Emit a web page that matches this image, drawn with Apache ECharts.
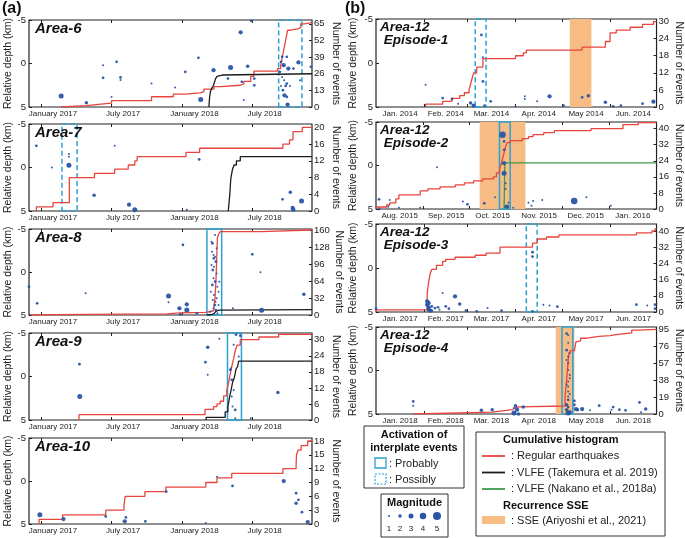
<!DOCTYPE html>
<html><head><meta charset="utf-8">
<script src="https://cdn.jsdelivr.net/npm/echarts@6/dist/echarts.min.js"></script>
<style>html,body{margin:0;padding:0;background:#fff}#c{width:685px;height:538px}</style>
</head><body><div id="c"></div>
<script>
// ---------------- DATA ----------------
// cumulative counts: [date, cumulative number]
const a6Red = [['2017-02-22',1],['2017-04-28',2],['2017-05-29',3],['2017-07-02',5],['2017-10-13',8],['2017-12-08',10],['2018-01-08',11],['2018-02-16',12],['2018-02-25',14],['2018-03-23',16],['2018-04-09',17],['2018-05-31',18],['2018-06-08',20],['2018-06-26',24],['2018-07-04',28],['2018-09-03',30],['2018-09-11',32],['2018-09-16',40],['2018-09-20',46],['2018-09-24',52],['2018-09-29',60],['2018-10-07',61],['2018-10-25',62],['2018-11-02',65],['2018-11-11',66]];
const a6Vlfe = [['2018-03-10',0],['2018-03-11',4],['2018-03-12',8],['2018-03-14',12],['2018-03-18',15],['2018-03-22',17],['2018-03-27',22],['2018-03-31',24],['2018-04-04',25],['2018-04-13',26]];
const a6Poss = ['2018-09-06','2018-11-05'];
// dots: [date, relative depth (km), magnitude]
const a6Dots = [['2017-02-22',3.73,3],['2017-04-28',4.5,2],['2017-06-10',0.19,1],['2017-06-10',1.65,1.5],['2017-07-15',-0.19,1.5],['2017-07-25',1.6,1.5],['2017-07-25',1.9,1],['2017-07-02',3.85,1],['2017-10-13',2.3,1],['2017-12-13',2.77,1],['2018-01-08',0.96,1.5],['2018-02-11',-0.65,1.5],['2018-02-17',4.15,3],['2018-03-22',0.77,2.5],['2018-04-28',1.73,1.5],['2018-05-05',0.46,3],['2018-05-31',-3.58,2.5],['2018-06-03',2.1,1.5],['2018-06-08',4.2,1],['2018-06-18',0.31,2],['2018-06-27',-4.9,1.5],['2018-07-05',1.73,1.5],['2018-07-05',2.5,1.5],
['2018-09-12',-0.19,1.5],['2018-09-15',-0.77,1.5],['2018-09-19',0.19,2.5],['2018-09-27',-0.77,1.5],['2018-10-01',0.58,2.5],['2018-10-14',0.58,1.5],['2018-10-27',-0.12,2.5],['2018-09-09',0.96,1.5],['2018-09-15',1.54,1],['2018-09-20',1.92,1],['2018-09-27',2.3,1.5],['2018-09-12',2.58,1],['2018-09-24',2.58,1.5],['2018-10-05',2.58,1],['2018-09-17',3.07,1.5],['2018-09-21',3.65,2.5],['2018-09-27',3.84,1.5],['2018-09-29',4.72,2.5],['2018-10-31',1.92,1],['2018-11-28',0.38,1.5]];

const a7Red = [['2016-12-20',1],['2017-02-01',2],['2017-03-15',8],['2017-05-19',9],['2017-07-10',10],['2017-08-14',11],['2017-08-31',12],['2017-09-06',13],['2018-01-10',14],['2018-02-14',15],['2018-09-17',16],['2018-10-04',17],['2018-10-13',19],['2018-11-06',20]];
const a7Vlfe = [['2018-04-29',0],['2018-05-01',2],['2018-05-03',4],['2018-05-05',7],['2018-05-06',8],['2018-05-08',9],['2018-05-10',10],['2018-05-14',11],['2018-05-20',12],['2018-05-30',13]];
const a7Poss = ['2017-02-24','2017-04-04'];
const a7Dots = [['2016-12-20',-2.5,1.5],['2017-01-29',0,1],['2017-03-14',-1.54,1],['2017-03-14',-1.23,1],['2017-03-14',-0.27,3],['2017-07-10',-2.5,1],['2017-05-18',3.19,2],['2017-08-16',4.27,2.5],['2017-08-31',4.85,3],['2018-01-12',4.85,1],['2018-02-13',-0.92,1.5],['2018-09-16',3.65,1.5],['2018-10-06',2.85,2],['2018-10-12',4.65,2.5],['2018-10-14',4.85,2.5],['2018-11-04',3.85,3]];

const a8Red = [['2016-12-05',1],['2017-04-24',2],['2017-11-21',4],['2017-12-25',5],['2018-02-28',6],['2018-03-09',8],['2018-03-22',10],['2018-03-24',20],['2018-03-26',35],['2018-03-28',60],['2018-03-30',100],['2018-03-31',125],['2018-04-01',145],['2018-04-04',152],['2018-04-08',157],['2018-07-21',160]];
const a8Vlfe = [['2018-03-04',0],['2018-03-10',1],['2018-03-18',3],['2018-03-24',5],['2018-03-28',7],['2018-04-01',9],['2018-04-05',10]];
const a8Prob = ['2018-03-05','2018-04-12'];
const a8Dots = [['2016-12-01',1.71,1.5],['2016-12-22',3.64,1.5],['2017-04-26',2.48,1],['2017-11-26',2.79,3],['2017-11-26',3.53,1],['2017-12-24',4.22,2.5],['2017-12-26',4.92,1.5],['2018-01-02',-3.14,1.5],['2018-01-12',3.76,2.5],['2018-01-12',4.42,3],['2018-02-07',4.81,1.5],['2018-05-11',4.22,1],['2018-06-30',-2.05,1.5],['2018-07-21',0.04,1],['2018-07-24',4.46,3],['2018-11-10',2.6,2],
['2018-03-17',-3.53,1],['2018-03-19',-3.33,1.5],['2018-03-22',-1.98,1],['2018-03-23',-1.59,1.5],['2018-03-26',-1.78,1],['2018-03-28',-1.2,1.5],['2018-03-17',-0.81,1],['2018-03-20',-0.23,1.5],['2018-03-22',0.74,1],['2018-03-26',1.12,1.5],['2018-03-30',0.16,1],['2018-04-01',1.71,1],['2018-03-19',1.51,1.5],['2018-03-23',2.67,1],['2018-03-27',3.45,1],['2018-03-15',2.29,1],['2018-03-30',3.06,1],['2018-04-04',3.84,1],['2018-03-28',4.42,1.5],['2018-03-22',4.22,1],['2018-04-01',4.81,1],['2018-03-26',-4.3,1],['2018-03-30',-2.75,1],['2018-03-18',-2.36,1],['2018-03-23',-0.62,1],['2018-04-04',2.29,1],['2018-04-06',1.12,1],['2018-03-13',4.61,1],['2018-03-25',3.84,1.5],['2018-03-20',3.26,1]];

const a9Red = [['2017-04-09',2],['2018-02-28',4],['2018-03-22',5],['2018-03-31',6],['2018-04-08',7],['2018-04-17',9],['2018-04-25',11],['2018-04-30',14],['2018-05-04',17],['2018-05-08',20],['2018-05-13',23],['2018-05-17',26],['2018-05-22',28],['2018-05-30',30],['2018-07-17',31],['2018-09-06',32]];
const a9Vlfe = [['2018-03-03',1],['2018-04-21',3],['2018-04-28',5],['2018-05-03',9],['2018-05-06',11],['2018-05-10',14],['2018-05-15',16],['2018-05-19',19],['2018-05-23',20],['2018-05-26',22]];
const a9Prob = ['2018-04-27','2018-06-02'];
const a9Dots = [['2017-04-10',-1.42,1.5],['2017-04-11',2.31,3],['2018-03-07',-3.35,2],['2018-03-01',-1.65,1.5],['2018-03-07',-0.19,1],['2018-04-06',-4.35,1],['2018-05-04',-0.77,1.5],['2018-05-06',-0.96,1],['2018-05-08',2.31,1],['2018-05-10',3.46,1],['2018-05-13',-3.65,1],['2018-05-17',3.85,1.5],['2018-05-19',-4.8,1.5],['2018-05-26',-2.31,1],['2018-05-30',-4.69,1.5],['2018-05-17',4.81,1],['2018-06-26',4.81,1],['2018-09-04',1.85,2],['2018-05-08',0.38,1.5],['2018-05-13',1.54,1]];

const a10Red = [['2016-12-27',1],['2017-02-26',2],['2017-06-17',3],['2017-08-03',4],['2017-08-06',6],['2017-09-26',7],['2017-11-19',8],['2018-03-02',9],['2018-03-31',10],['2018-05-08',11],['2018-09-17',12],['2018-10-21',13],['2018-10-22',15],['2018-10-26',16],['2018-11-03',17],['2018-11-20',18]];
const a10Dots = [['2016-12-29',3.92,3],['2017-02-28',4.42,2.5],['2017-06-17',4.12,1.5],['2017-08-08',4.23,1.5],['2017-08-05',4.69,2.5],['2017-09-27',4.69,1.5],['2017-11-20',1.23,1.5],['2018-03-02',4.88,1],['2018-03-31',-0.5,1],['2018-05-10',0.58,1.5],['2018-09-19',0,2.5],['2018-10-21',1.42,1.5],['2018-10-21',2.58,2],['2018-10-27',2.19,1.5],['2018-11-05',3.62,1.5],['2018-11-20',4.77,2.5]];

const e1Red = [['2014-02-02',1],['2014-02-13',2],['2014-02-19',3],['2014-02-24',4],['2014-02-27',5],['2014-03-02',6],['2014-03-03',8],['2014-03-04',10],['2014-03-05',12],['2014-03-07',14],['2014-03-11',17],['2014-04-01',18],['2014-04-06',19],['2014-04-08',20],['2014-05-14',21],['2014-05-29',23],['2014-06-01',26],['2014-06-05',27],['2014-06-14',28],['2014-06-22',29],['2014-06-29',30]];
const e1Poss = ['2014-03-06','2014-03-13'];
const e1SSE = ['2014-05-06','2014-05-20'];
const e1Dots = [['2014-02-02',2.47,1],['2014-02-13',3.98,1.5],['2014-02-19',4.09,1.5],['2014-02-23',4.62,1],['2014-03-03',4.55,2],['2014-03-05',4.85,2.5],['2014-03-10',-3.19,1.5],['2014-03-11',-0.66,1],['2014-03-11',2.09,1.5],['2014-03-12',4.85,1.5],['2014-03-16',4.36,1.5],['2014-04-01',4.92,1],['2014-04-07',3.79,1],['2014-04-07',4.09,1],['2014-04-15',4.36,1],['2014-04-23',3.79,2.5],['2014-05-02',4.85,1.5],['2014-05-14',3.9,1.5],['2014-05-18',3.72,2],['2014-05-29',4.47,2],['2014-06-03',4.92,1.5],['2014-06-08',4.85,1.5],['2014-06-22',4.62,1.5],['2014-06-29',4.4,2.5]];

const e2Red = [['2015-08-01',1],['2015-08-08',2],['2015-08-10',3],['2015-08-14',5],['2015-08-16',7],['2015-08-30',9],['2015-09-04',10],['2015-09-12',11],['2015-09-22',12],['2015-09-28',13],['2015-10-04',14],['2015-10-10',15],['2015-10-17',16],['2015-10-19',18],['2015-10-21',20],['2015-10-22',22],['2015-10-23',25],['2015-10-24',28],['2015-10-25',31],['2015-10-26',33],['2015-10-28',34],['2015-11-05',35],['2015-11-09',36],['2015-11-12',37],['2015-11-19',38],['2015-11-26',39],['2015-12-20',40],['2016-01-10',42],['2016-01-20',43]];
const e2Vlfe = [['2015-10-24',0],['2015-10-24 12:00',23]];
const e2Prob = ['2015-10-21','2015-10-28'];
const e2SSE = ['2015-10-08','2015-11-07'];
const e2Dots = [['2015-08-03',3.88,1.5],['2015-08-03',5,1.5],['2015-08-09',4.73,1],['2015-08-10',3.96,1],['2015-08-16',4.85,1],['2015-08-30',4.85,1],['2015-09-10',0.19,1],['2015-09-27',4.15,1],['2015-09-30',4.46,1.5],['2015-10-11',4.35,1.5],['2015-10-18',3.65,1],['2015-10-23',-3.54,4],['2015-10-24',-2.77,1.5],['2015-10-24',-1.81,1.5],['2015-10-24',-0.27,2.5],['2015-10-24',0.88,3],['2015-10-25',2.04,1],['2015-10-25',2.69,1],['2015-10-25',4.73,1.5],['2015-10-26',4.73,2.5],['2015-10-27',4.27,1],['2015-10-30',4.85,1],['2015-11-09',4.27,1],['2015-11-11',4.62,1],['2015-11-12',4.08,1],['2015-11-18',3.96,1],['2015-12-09',4.08,4],['2015-12-17',3.65,1],['2016-01-02',4.62,1]];

const e3Red = [['2017-01-01',1],['2017-02-03',9],['2017-02-04',15],['2017-02-05',19],['2017-02-06',21],['2017-02-09',23],['2017-02-13',25],['2017-02-15',26],['2017-02-21',27],['2017-03-06',28],['2017-03-13',29],['2017-03-22',32],['2017-04-12',34],['2017-04-15',36],['2017-04-21',37],['2017-04-29',38],['2017-06-18',39],['2017-06-28',40],['2017-06-30',41]];
const e3Poss = ['2017-04-08','2017-04-15'];
const e3Dots = [['2017-01-01',4.62,1.5],['2017-02-03',3.79,2.5],['2017-02-03',4.17,2.5],['2017-02-04',4.47,2.5],['2017-02-04',4.74,2.5],['2017-02-05',4.85,2.5],['2017-02-04',3.98,2.5],['2017-02-06',4.36,1.5],['2017-02-06',4.85,1.5],['2017-02-08',4.55,1.5],['2017-02-10',4.47,1.5],['2017-02-11',4.74,1],['2017-02-13',2.85,1],['2017-02-15',4.36,1.5],['2017-02-17',4.62,1.5],['2017-02-21',3.23,2.5],['2017-02-24',4.09,2],['2017-02-28',4.85,1.5],['2017-03-07',4.92,1.5],['2017-03-14',4.55,1],['2017-03-23',4.85,1.5],['2017-04-12',-1.79,1.5],['2017-04-12',-1.3,1.5],['2017-04-12',4.92,1.5],['2017-04-19',4.17,1],['2017-04-23',4.25,1],['2017-04-28',4.4,1.5],['2017-06-18',4.17,1.5],['2017-06-25',4.25,1],['2017-06-30',4.17,1.5],['2017-06-30',4.62,1.5]];

const e4Red = [['2018-01-25',2],['2018-03-17',4],['2018-03-26',5],['2018-03-30',7],['2018-04-01',8],['2018-04-03',9],['2018-05-03 00:00',20],['2018-05-03 12:00',29],['2018-05-04 00:00',38],['2018-05-04 12:00',49],['2018-05-05 00:00',60],['2018-05-05 12:00',68],['2018-05-06 12:00',71],['2018-05-09',72],['2018-05-10',81],['2018-05-11',82],['2018-05-13',85],['2018-05-17',87],['2018-05-25',88],['2018-06-01',89],['2018-06-05',90],['2018-06-09',91],['2018-06-15',94],['2018-06-20',95]];
const e4Prob = ['2018-05-01','2018-05-08'];
const e4SSE = ['2018-04-27','2018-05-09'];
const e4Dots = [['2018-01-25',3.56,1.5],['2018-01-25',4.05,1],['2018-03-10',4.58,2],['2018-03-17',4.51,2],['2018-03-31',4.32,1],['2018-04-01',4.05,2],['2018-03-31',4.89,3],['2018-04-02',4.51,2.5],['2018-04-03',5,2],['2018-04-06',4.2,2],['2018-05-04',-4.24,1.5],['2018-05-05',-4.05,1],['2018-05-04',-2.34,1.5],['2018-05-05',-1.58,1],['2018-05-05',-0.82,1],['2018-05-05',-0.06,1],['2018-05-06',0.51,1],['2018-05-05',1.27,1],['2018-05-05',1.84,1],['2018-05-05',2.41,1],['2018-05-05',2.98,1],['2018-05-05',3.37,1.5],['2018-05-04',3.94,2],['2018-05-05',4.2,1.5],['2018-05-04',4.51,2],['2018-05-06',4.81,2.5],['2018-05-05',4.89,3],['2018-05-05',-3.2,1],['2018-05-06',-2.0,1],['2018-05-04',-1.2,1],['2018-05-06',0.9,1],['2018-05-04',1.6,1],['2018-05-06',2.7,1],['2018-05-09',3.48,1.5],['2018-05-09',3.94,1.5],['2018-05-10',4.43,2.5],['2018-05-11',4.51,2],['2018-05-14',4.43,2.5],['2018-05-19',4.58,1],['2018-05-25',4.05,1.5],['2018-06-03',4.2,1.5],['2018-06-02',4.51,1],['2018-06-07',4.51,1.5],['2018-06-11',4.58,1.5],['2018-06-20',3.67,1.5],['2018-06-21',4.81,1],['2018-06-24',4.43,2]];

// axis tick labels
const depthTicks = [-5, 0, 5];
const monthFull = ['January','February','March','April','May','June','July','August','September','October','November','December'];
const monthAbbr = ['Jan.','Feb.','Mar.','Apr.','May','Jun.','Jul.','Aug.','Sep.','Oct.','Nov.','Dec.'];
const magLegend = [1, 2, 3, 4, 5];

// ---------------- BUILD ----------------
const FONT = '"Liberation Sans", Arial, Helvetica, sans-serif';
const RED = '#e8453e', BLACK = '#1c1c1c', GREEN = '#3f9a4c', BLUE = '#2a55a5', CYAN = '#2ba2d3', ORANGE = '#f6bc83';
function T(s){const p=s.split(' ');const d=p[0].split('-').map(Number);let ms=Date.UTC(d[0],d[1]-1,d[2]);if(p[1]){const h=p[1].split(':').map(Number);ms+=(h[0]*60+h[1])*60000;}return ms;}
function monthStarts(a,b){const out=[];const d=new Date(a);let y=d.getUTCFullYear(),m=d.getUTCMonth();while(true){const t=Date.UTC(y,m,1);if(t>b)break;if(t>=a)out.push(t);m++;if(m>11){m=0;y++;}}return out;}
function nextMonth(t){const d=new Date(t);return Date.UTC(d.getUTCFullYear(),d.getUTCMonth()+1,1);}

const panels = [
 {col:'L', top:20,  h:87, x0:'2016-12-01', x1:'2018-12-01', cMax:68,    cStep:13, cTop:65,  title:['Area-6'],  red:a6Red,  black:a6Vlfe, dots:a6Dots,  rect:a6Poss, dashed:true},
 {col:'L', top:124, h:87, x0:'2016-12-01', x1:'2018-12-01', cMax:20.8,  cStep:4,  cTop:20,  title:['Area-7'],  red:a7Red,  black:a7Vlfe, dots:a7Dots,  rect:a7Poss, dashed:true},
 {col:'L', top:229, h:86, x0:'2016-12-01', x1:'2018-12-01', cMax:161.9, cStep:32, cTop:160, title:['Area-8'],  red:a8Red,  black:a8Vlfe, dots:a8Dots,  rect:a8Prob, dashed:false},
 {col:'L', top:333, h:87, x0:'2016-12-01', x1:'2018-12-01', cMax:32.5,  cStep:6,  cTop:30,  title:['Area-9'],  red:a9Red,  black:a9Vlfe, dots:a9Dots,  rect:a9Prob, dashed:false},
 {col:'L', top:438, h:86, x0:'2016-12-01', x1:'2018-12-01', cMax:18.65, cStep:3,  cTop:18,  title:['Area-10'], red:a10Red, dots:a10Dots},
 {col:'R', top:19,  h:88, x0:'2014-01-01', x1:'2014-07-01', cMax:30.9,  cStep:6,  cTop:30,  title:['Area-12',' Episode-1'], red:e1Red, dots:e1Dots, rect:e1Poss, dashed:true, sse:e1SSE},
 {col:'R', top:122, h:87, x0:'2015-08-01', x1:'2016-02-01', cMax:43.3,  cStep:8,  cTop:40,  title:['Area-12',' Episode-2'], red:e2Red, green:e2Vlfe, dots:e2Dots, rect:e2Prob, dashed:false, sse:e2SSE},
 {col:'R', top:224, h:88, x0:'2017-01-01', x1:'2017-07-01', cMax:43.4,  cStep:8,  cTop:40,  title:['Area-12',' Episode-3'], red:e3Red, dots:e3Dots, rect:e3Poss, dashed:true},
 {col:'R', top:327, h:87, x0:'2018-01-01', x1:'2018-07-01', cMax:97.6,  cStep:19, cTop:95,  title:['Area-12',' Episode-4'], red:e4Red, dots:e4Dots, rect:e4Prob, dashed:false, sse:e4SSE}
];

const grids=[], xAxes=[], yAxes=[], series=[], graphic=[];
const txt = {color:'#222', fontFamily:FONT};

function stepData(pairs, xmax){
  const d=[[T(pairs[0][0]),0]];
  pairs.forEach(p=>d.push([T(p[0]),p[1]]));
  d.push([xmax,pairs[pairs.length-1][1]]);
  return d;
}

panels.forEach((p,i)=>{
  const isL = p.col==='L';
  const left = isL?29:376, width = isL?283:282;
  const xmin=T(p.x0), xmax=T(p.x1);
  grids.push({left:left, top:p.top, width:width, height:p.h, show:true, borderColor:'#222', borderWidth:1.2, backgroundColor:'transparent'});
  const ms = monthStarts(xmin,xmax);
  let ticks, labels, fmt, pad;
  if(isL){
    ticks = ms.filter(t=>{const m=new Date(t).getUTCMonth();return m===0||m===6;});
    labels = ticks.slice();
    fmt = v=>{const d=new Date(v);return monthFull[d.getUTCMonth()]+' '+d.getUTCFullYear();};
    pad = [0,0,0,24];
  } else {
    ticks = ms.filter(t=>t>xmin&&t<xmax);
    labels = ms.filter(t=>t<xmax).map(t=>(t+nextMonth(t))/2);
    fmt = v=>{const d=new Date(v);return monthAbbr[d.getUTCMonth()]+' '+d.getUTCFullYear();};
    pad = [0,0,0,0];
  }
  xAxes.push({type:'value', gridIndex:i, min:xmin, max:xmax, position:'bottom',
    axisLine:{show:false, onZero:false}, splitLine:{show:false},
    axisTick:{show:true, inside:true, length:3, customValues:ticks, lineStyle:{color:'#222'}},
    axisLabel:{customValues:labels, formatter:fmt, fontSize:8, margin:3, padding:pad, ...txt}});
  xAxes.push({type:'value', gridIndex:i, min:xmin, max:xmax, position:'top',
    axisLine:{show:false, onZero:false}, splitLine:{show:false}, axisLabel:{show:false},
    axisTick:{show:true, inside:true, length:3, customValues:ticks, lineStyle:{color:'#222'}}});
  yAxes.push({type:'value', gridIndex:i, position:'left', inverse:true, min:-5, max:5, interval:5,
    axisLine:{show:false, onZero:false}, splitLine:{show:false},
    axisTick:{show:true, inside:true, length:3, customValues:depthTicks, lineStyle:{color:'#222'}},
    axisLabel:{customValues:depthTicks, fontSize:9.5, margin:3, ...txt},
    name:'Relative depth (km)', nameLocation:'middle', nameRotate:90, nameGap:isL?13:17,
    nameTextStyle:{fontSize:10.5, ...txt}});
  const cVals=[]; for(let v=0; v<=p.cTop+1e-9; v+=p.cStep) cVals.push(v);
  yAxes.push({type:'value', gridIndex:i, position:'right', min:0, max:p.cMax, interval:p.cStep,
    axisLine:{show:false, onZero:false}, splitLine:{show:false},
    axisTick:{show:true, inside:true, length:3, customValues:cVals, lineStyle:{color:'#222'}},
    axisLabel:{customValues:cVals, fontSize:9.5, margin:2, formatter:v=>(Math.abs(v/p.cStep-Math.round(v/p.cStep))<1e-6?String(v):''), ...txt},
    name:'Number of events', nameLocation:'middle', nameRotate:-90, nameGap:isL?18:15,
    nameTextStyle:{fontSize:10.5, ...txt}});
  const xi=2*i, yd=2*i, yc=2*i+1;
  if(p.sse){
    series.push({type:'line', xAxisIndex:xi, yAxisIndex:yc, data:[[xmin,0]], symbol:'none', lineStyle:{opacity:0}, silent:true, z:1,
      markArea:{silent:true, itemStyle:{color:ORANGE}, data:[[{xAxis:T(p.sse[0])},{xAxis:T(p.sse[1])}]]}});
  }
  series.push({type:'line', step:'end', xAxisIndex:xi, yAxisIndex:yc, data:stepData(p.red,xmax), symbol:'none', lineStyle:{color:RED, width:1.3}, z:3, silent:true});
  if(p.black) series.push({type:'line', step:'end', xAxisIndex:xi, yAxisIndex:yc, data:stepData(p.black,xmax), symbol:'none', lineStyle:{color:BLACK, width:1.3}, z:3, silent:true});
  if(p.green) series.push({type:'line', step:'end', xAxisIndex:xi, yAxisIndex:yc, data:stepData(p.green,xmax), symbol:'none', lineStyle:{color:GREEN, width:1.3}, z:3, silent:true});
  series.push({type:'scatter', xAxisIndex:xi, yAxisIndex:yd, data:p.dots.map(d=>[T(d[0]),d[1],d[2]]),
    symbolSize:v=>0.5+1.5*v[2], itemStyle:{color:BLUE, opacity:0.95}, z:4, silent:true});
  if(p.rect){
    series.push({type:'line', xAxisIndex:xi, yAxisIndex:yc, data:[[xmin,0]], symbol:'none', lineStyle:{opacity:0}, silent:true, z:6,
      markArea:{silent:true, itemStyle:{color:'rgba(0,0,0,0)', borderColor:CYAN, borderWidth:1.5, borderType:p.dashed?[5,3]:'solid'},
        data:[[{xAxis:T(p.rect[0])},{xAxis:T(p.rect[1])}]]}});
  }
  if(isL){
    graphic.push({type:'text', x:35, y:p.top+9, z:100, style:{text:p.title[0], font:'italic bold 15px '+FONT, fill:'#111', verticalAlign:'middle'}});
  } else {
    graphic.push({type:'text', x:380, y:p.top+8.5, z:100, style:{text:p.title[0], font:'italic bold 13.5px '+FONT, fill:'#111', verticalAlign:'middle'}});
    graphic.push({type:'text', x:380, y:p.top+21, z:100, style:{text:p.title[1], font:'italic bold 13.5px '+FONT, fill:'#111', verticalAlign:'middle'}});
  }
});

graphic.push({type:'text', x:2, y:9, style:{text:'(a)', font:'bold 16px '+FONT, fill:'#111', verticalAlign:'middle'}});
graphic.push({type:'text', x:345, y:9, style:{text:'(b)', font:'bold 16px '+FONT, fill:'#111', verticalAlign:'middle'}});

const LF = '11px '+FONT, LB = 'bold 11px '+FONT;
graphic.push({type:'rect', shape:{x:364, y:426, width:100, height:62}, style:{fill:'#fff', stroke:'#333', lineWidth:1}});
graphic.push({type:'text', x:414, y:435, style:{text:'Activation of', font:LB, fill:'#111', align:'center', verticalAlign:'middle'}});
graphic.push({type:'text', x:414, y:447.5, style:{text:'interplate events', font:LB, fill:'#111', align:'center', verticalAlign:'middle'}});
graphic.push({type:'rect', shape:{x:375, y:458, width:11, height:10}, style:{fill:'none', stroke:CYAN, lineWidth:1.3}});
graphic.push({type:'text', x:389, y:463.5, style:{text:': Probably', font:LF, fill:'#222', verticalAlign:'middle'}});
graphic.push({type:'rect', shape:{x:375, y:474, width:11, height:10}, style:{fill:'none', stroke:CYAN, lineWidth:1.2, lineDash:[2,1.5]}});
graphic.push({type:'text', x:389, y:479.5, style:{text:': Possibly', font:LF, fill:'#222', verticalAlign:'middle'}});
graphic.push({type:'rect', shape:{x:381, y:494, width:67, height:43}, style:{fill:'#fff', stroke:'#333', lineWidth:1}});
graphic.push({type:'text', x:414.5, y:503, style:{text:'Magnitude', font:LB, fill:'#111', align:'center', verticalAlign:'middle'}});
const magX = [389, 400, 411, 423, 437];
magLegend.forEach((m,k)=>{
  graphic.push({type:'circle', shape:{cx:magX[k], cy:516, r:(0.5+1.5*m)/2}, style:{fill:BLUE}});
  graphic.push({type:'text', x:magX[k], y:529, style:{text:String(m), font:'8px '+FONT, fill:'#222', align:'center', verticalAlign:'middle'}});
});
graphic.push({type:'rect', shape:{x:476, y:432, width:189, height:104}, style:{fill:'#fff', stroke:'#333', lineWidth:1}});
graphic.push({type:'text', x:503, y:439.5, style:{text:'Cumulative histogram', font:LB, fill:'#111', verticalAlign:'middle'}});
[[RED,456,': Regular earthquakes'],[BLACK,472.5,': VLFE (Takemura et al. 2019)'],[GREEN,489,': VLFE (Nakano et al., 2018a)']].forEach(r=>{
  graphic.push({type:'line', shape:{x1:482, y1:r[1], x2:505, y2:r[1]}, style:{stroke:r[0], lineWidth:1.8}});
  graphic.push({type:'text', x:511, y:r[1], style:{text:r[2], font:LF, fill:'#222', verticalAlign:'middle'}});
});
graphic.push({type:'text', x:503, y:506, style:{text:'Recurrence SSE', font:LB, fill:'#111', verticalAlign:'middle'}});
graphic.push({type:'rect', shape:{x:482, y:516, width:23, height:8}, style:{fill:ORANGE}});
graphic.push({type:'text', x:511, y:520.5, style:{text:': SSE (Ariyoshi et al., 2021)', font:LF, fill:'#222', verticalAlign:'middle'}});

const chart = echarts.init(document.getElementById('c'), null, {renderer:'canvas'});
chart.setOption({animation:false, backgroundColor:'#fff', grid:grids, xAxis:xAxes, yAxis:yAxes, series:series, graphic:graphic});
</script></body></html>
